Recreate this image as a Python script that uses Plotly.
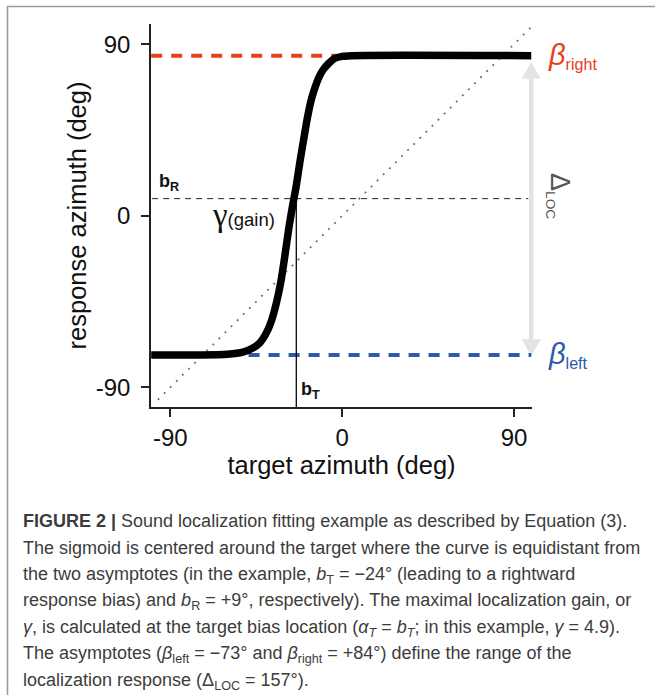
import plotly.graph_objects as go

# ---- values ----
B_T = -24          # target bias (deg)
B_R = 9            # response bias (deg)
BETA_LEFT = -73    # left asymptote (deg)
BETA_RIGHT = 84    # right asymptote (deg)

# fitted sigmoid, sampled along the curve
curve_x = [-100, -75, -60, -52, -47, -43, -40, -37, -34.5, -32, -30, -28, -26,
           -24, -22, -20, -18, -16, -14, -12, -10, -7, -4, 0, 5, 99]
curve_y = [-73, -73, -72.6, -71.5, -69.5, -66.5, -62, -55, -46, -34, -21, -7, 5,
           16, 29, 41, 52.5, 61.5, 68, 73, 76.5, 80, 82.5, 83.6, 84, 84]

# unity (identity) line
unity_x = [-96.5, 99.4]

# extent of the asymptote guides
right_guide_x = [-100, -2.8]
left_guide_x = [-49, 99]
bias_guide_x = [-99.5, 97.5]
X_END = 99

tick_vals = [-90, 0, 90]
tick_text = ["-90", "0", "90"]

X_RANGE = [-100.1, 99.4]
Y_RANGE = [-100.3, 100.6]

RED = "#e5411d"
BLUE = "#2c59aa"
ARROW = "#e3e3e3"
FONT = "Liberation Sans"

# plot area in pixels (figure is 655 x 695)
L, R, T, B = 151, 123, 24, 288
PW, PH = 655 - L - R, 695 - T - B


def px(v):
    """data x -> paper x"""
    return (v - X_RANGE[0]) / (X_RANGE[1] - X_RANGE[0])


def py(v):
    """data y -> paper y"""
    return (v - Y_RANGE[0]) / (Y_RANGE[1] - Y_RANGE[0])


fig = go.Figure()

# identity line
fig.add_trace(go.Scatter(x=unity_x, y=unity_x, mode="lines",
                         line=dict(color="#6a6a6a", width=1.8, dash="1.8px,6.8px"),
                         hoverinfo="skip"))
# asymptote guides
fig.add_trace(go.Scatter(x=right_guide_x, y=[BETA_RIGHT] * 2, mode="lines",
                         line=dict(color=RED, width=4, dash="11px,9px")))
fig.add_trace(go.Scatter(x=left_guide_x, y=[BETA_LEFT] * 2, mode="lines",
                         line=dict(color=BLUE, width=4, dash="11px,9px")))
# response bias guide
fig.add_trace(go.Scatter(x=bias_guide_x, y=[B_R] * 2, mode="lines",
                         line=dict(color="#222222", width=1, dash="6px,5px")))
# target bias marker
fig.add_trace(go.Scatter(x=[B_T, B_T], y=[Y_RANGE[0], B_R], mode="lines",
                         line=dict(color="#111111", width=1.4)))
# sigmoid
fig.add_trace(go.Scatter(x=curve_x, y=curve_y, mode="lines",
                         line=dict(color="#000000", width=7.5, shape="spline", smoothing=0.8)))

# double-headed range arrow (Delta LOC), spanning the two asymptotes
ax = px(X_END)
tip_top = py(BETA_RIGHT - 3.2)
tip_bot = py(BETA_LEFT - 0.7)
head_len = 17 / PH
head_half = 9.5 / PW
shapes = [
    dict(type="line", xref="paper", yref="paper", x0=ax, x1=ax,
         y0=tip_bot + head_len - 0.003, y1=tip_top - head_len + 0.003,
         line=dict(color=ARROW, width=4.5), layer="below"),
    dict(type="path", xref="paper", yref="paper", layer="below", fillcolor=ARROW,
         line=dict(width=0),
         path=f"M {ax - head_half},{tip_top - head_len} L {ax},{tip_top} "
              f"L {ax + head_half},{tip_top - head_len} Z"),
    dict(type="path", xref="paper", yref="paper", layer="below", fillcolor=ARROW,
         line=dict(width=0),
         path=f"M {ax - head_half},{tip_bot + head_len} L {ax},{tip_bot} "
              f"L {ax + head_half},{tip_bot + head_len} Z"),
    # frame around the figure panel
    dict(type="rect", xref="paper", yref="paper",
         x0=(7.5 - L) / PW, x1=(700 - L) / PW,
         y0=(T + PH - 760) / PH, y1=(T + PH - 6.5) / PH,
         line=dict(color="#9a9a9a", width=1.6), fillcolor="rgba(0,0,0,0)"),
]

annotations = [
    dict(x=-99, y=B_R, xref="x", yref="y", xanchor="left", yanchor="bottom",
         xshift=4, yshift=3, showarrow=False,
         text="<b>b<sub>R</sub></b>", font=dict(family=FONT, size=18, color="#111")),
    dict(x=B_T, y=-91.5, xref="x", yref="y", xanchor="left", yanchor="middle",
         xshift=3, showarrow=False,
         text="<b>b<sub>T</sub></b>", font=dict(family=FONT, size=18, color="#111")),
    dict(x=-33.9, y=0.5, xref="x", yref="y", xanchor="right", yanchor="middle",
         showarrow=False,
         text="<span style='font-size:33px;font-family:Liberation Serif'>γ</span>(gain)",
         font=dict(family=FONT, size=18.5, color="#111")),
    dict(x=px(X_END) + 15 / PW, y=py(BETA_RIGHT), xref="paper", yref="paper",
         xanchor="left", yanchor="middle", showarrow=False,
         text="<span style='font-size:29px'><i>β</i></span><sub>right</sub>",
         font=dict(family=FONT, size=23, color=RED)),
    dict(x=px(X_END) + 15 / PW, y=py(BETA_LEFT), xref="paper", yref="paper",
         xanchor="left", yanchor="middle", showarrow=False,
         text="<span style='font-size:29px'><i>β</i></span><sub>left</sub>",
         font=dict(family=FONT, size=23, color=BLUE)),
    dict(x=px(X_END) + 28 / PW, y=py((BETA_LEFT + BETA_RIGHT) / 2) + 9 / PH,
         xref="paper", yref="paper", xanchor="center", yanchor="middle",
         showarrow=False, textangle=90,
         text="<span style='font-size:27px'>Δ</span><sub>LOC</sub>",
         font=dict(family=FONT, size=19.5, color="#555555")),
]

# caption below the chart
caption_lines = [
    "<b>FIGURE 2 |</b> Sound localization fitting example as described by Equation (3).",
    "The sigmoid is centered around the target where the curve is equidistant from",
    "the two asymptotes (in the example, <i>b</i><sub>T</sub> = −24° (leading to a rightward",
    "response bias) and <i>b</i><sub>R</sub> = +9°, respectively). The maximal localization gain, or",
    "<i>γ</i>, is calculated at the target bias location (<i>α<sub>T</sub></i> = <i>b<sub>T</sub></i>; "
    "in this example, <i>γ</i> = 4.9).",
    "The asymptotes (<i>β</i><sub>left</sub> = −73° and <i>β</i><sub>right</sub> = +84°) define the range of the",
    "localization response (Δ<sub>LOC</sub> = 157°).",
]
caption_y = [521, 548, 575, 601.5, 628, 654.5, 681]
for line, ypix in zip(caption_lines, caption_y):
    annotations.append(dict(x=(21 - L) / PW, y=(T + PH - ypix) / PH, xref="paper", yref="paper",
                            xanchor="left", yanchor="middle", showarrow=False, text=line,
                            font=dict(family=FONT, size=18, color="#3c3c3c")))

axis_common = dict(showline=True, linecolor="#222222", linewidth=1.6, ticks="outside",
                   ticklen=8, tickwidth=1.6, tickcolor="#222222", showgrid=False,
                   zeroline=False, tickvals=tick_vals, ticktext=tick_text,
                   tickfont=dict(family=FONT, size=24, color="#111"))

fig.update_layout(
    width=655, height=695,
    margin=dict(l=L, r=R, t=T, b=B),
    paper_bgcolor="white", plot_bgcolor="white",
    showlegend=False,
    shapes=shapes,
    annotations=annotations,
    xaxis=dict(range=X_RANGE, title=dict(text="target azimuth (deg)", standoff=4,
               font=dict(family=FONT, size=25.5, color="#111")),
               ticklabelstandoff=0, **axis_common),
    yaxis=dict(range=Y_RANGE, title=dict(text="response azimuth (deg)", standoff=2,
               font=dict(family=FONT, size=25.5, color="#111")),
               ticklabelstandoff=6, **axis_common),
)

fig.write_html("out.html")
